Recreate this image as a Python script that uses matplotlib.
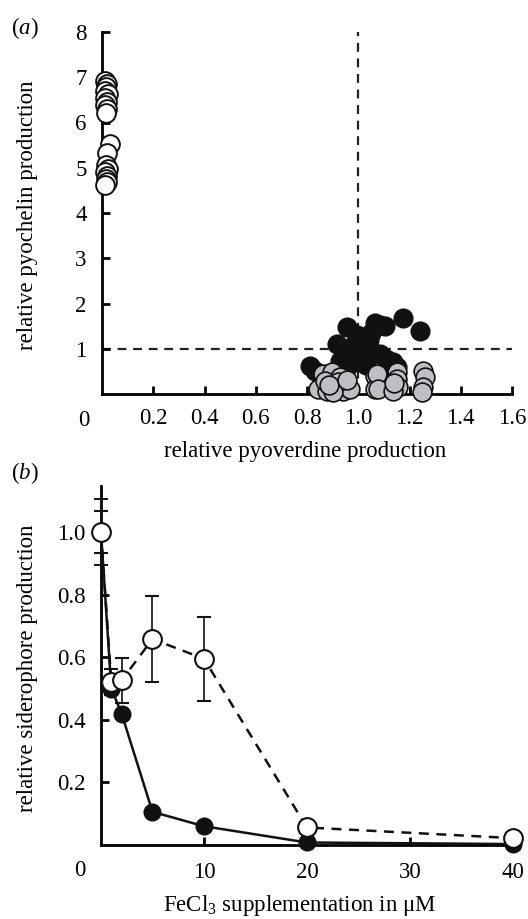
import matplotlib
matplotlib.use("Agg")
import matplotlib.pyplot as plt
import numpy as np

plt.rcParams['font.family'] = ['Liberation Serif', 'DejaVu Serif']
plt.rcParams['mathtext.fontset'] = 'custom'
plt.rcParams['mathtext.rm'] = 'Liberation Serif'
plt.rcParams['mathtext.it'] = 'Liberation Serif:italic'

# ---------------- Panel (a) data ----------------
open_x = [0.012, 0.020, 0.015, 0.010, 0.022, 0.012, 0.018, 0.012, 0.020, 0.014,
          0.031, 0.020, 0.016, 0.022, 0.012, 0.018, 0.014, 0.020, 0.012]
open_y = [6.92, 6.85, 6.78, 6.70, 6.62, 6.55, 6.45, 6.38, 6.30, 6.22,
          5.53, 5.32, 5.05, 4.98, 4.90, 4.82, 4.75, 4.68, 4.62]

filled_x = [1.176, 1.241, 1.104, 1.065, 1.085, 0.955, 0.994, 0.916, 1.020, 1.085,
            1.137, 0.810, 0.830, 1.000, 0.970, 1.040, 0.950, 1.010, 1.060, 0.990,
            0.930, 1.030, 1.110, 0.980, 1.150, 0.960, 1.050, 1.120]
filled_y = [1.69, 1.40, 1.50, 1.58, 1.52, 1.47, 1.30, 1.10, 1.06, 0.88,
            0.70, 0.62, 0.51, 1.00, 0.85, 1.20, 0.95, 0.75, 0.90, 1.15,
            0.72, 0.65, 0.78, 1.05, 0.60, 0.62, 1.35, 0.62]

gray_x = [0.864, 0.896, 0.929, 0.844, 0.877, 0.909, 0.942, 0.968, 0.870, 0.920,
          0.900, 0.885, 0.955,
          1.065, 1.065, 1.072, 1.150, 1.150, 1.078, 1.156, 1.137, 1.140,
          1.254, 1.260, 1.254, 1.250]
gray_y = [0.44, 0.48, 0.37, 0.11, 0.07, 0.15, 0.07, 0.11, 0.29, 0.26,
          0.05, 0.20, 0.30,
          0.40, 0.11, 0.44, 0.48, 0.33, 0.11, 0.15, 0.07, 0.25,
          0.51, 0.37, 0.15, 0.05]

# ---------------- Panel (b) data ----------------
fe_conc = [0, 1, 2, 5, 10, 20, 40]
open_b = [1.00, 0.52, 0.526, 0.658, 0.595, 0.056, 0.022]
open_err = [0.067, 0.042, 0.072, 0.138, 0.134, 0.0, 0.0]
filled_b = [1.00, 0.50, 0.42, 0.106, 0.060, 0.008, 0.003]
filled_err = [0.107, 0.0, 0.0, 0.0, 0.0, 0.0, 0.0]

W, H = 528, 919
fig = plt.figure(figsize=(W / 100, H / 100), dpi=100)


def fx(px):
    return px / W


def fy(py):
    return 1 - py / H


FS = 16.5
SPW = 2.0
GRAY = '#bebfc3'

# ---------------- Panel (a) ----------------
l, r, t, b = 102, 512, 32, 394
axa = fig.add_axes([fx(l), fy(b), (r - l) / W, (b - t) / H])
axa.set_xlim(0, 1.6)
axa.set_ylim(0, 8)
for s in ['top', 'right']:
    axa.spines[s].set_visible(False)
for s in ['left', 'bottom']:
    axa.spines[s].set_linewidth(SPW)
axa.set_xticks([0.2, 0.4, 0.6, 0.8, 1.0, 1.2, 1.4, 1.6])
axa.set_xticklabels(['0.2', '0.4', '0.6', '0.8', '1.0', '1.2', '1.4', '1.6'])
axa.set_yticks([1, 2, 3, 4, 5, 6, 7, 8])
axa.tick_params(direction='in', length=6, width=SPW, labelsize=FS, pad=10)
axa.tick_params(axis='y', pad=11)

axa.plot([0, 1.6], [1, 1], ls=(0, (4, 3)), color='#222222', lw=1.6, zorder=1)
axa.plot([1.0, 1.0], [0, 8], ls=(0, (4, 3)), color='#222222', lw=1.6, zorder=1)

MS = 13.5
axa.plot(filled_x, filled_y, 'o', ms=MS, mfc='#111111', mec='#111111', mew=1.0,
         ls='none', zorder=3, clip_on=False)
axa.plot(gray_x, gray_y, 'o', ms=MS, mfc=GRAY, mec='#111111', mew=1.2,
         ls='none', zorder=4, clip_on=False)
axa.plot(open_x, open_y, 'o', ms=MS, mfc='white', mec='#111111', mew=1.4,
         ls='none', zorder=4, clip_on=False)

fig.text(fx(84), fy(420), '0', fontsize=FS, ha='center', va='center')
fig.text(fx(305), fy(451), 'relative pyoverdine production', fontsize=FS,
         ha='center', va='center')
fig.text(fx(28), fy(215), 'relative pyochelin production', fontsize=FS,
         ha='center', va='center', rotation=90)
fig.text(fx(25), fy(28), '($\\it{a}$)', fontsize=FS, ha='center', va='center')

# ---------------- Panel (b) ----------------
l, r, t, b = 101, 520, 486, 845
axb = fig.add_axes([fx(l), fy(b), (r - l) / W, (b - t) / H])
axb.set_xlim(0, 40.7)
axb.set_ylim(0, 1.147)
for s in ['top', 'right']:
    axb.spines[s].set_visible(False)
for s in ['left', 'bottom']:
    axb.spines[s].set_linewidth(SPW)
axb.set_xticks([10, 20, 30, 40])
axb.set_yticks([0.2, 0.4, 0.6, 0.8, 1.0])
axb.set_yticklabels(['0.2', '0.4', '0.6', '0.8', '1.0'])
axb.tick_params(direction='in', length=6, width=SPW, labelsize=FS, pad=12)
axb.tick_params(axis='y', pad=11)

axb.errorbar(fe_conc, filled_b, yerr=filled_err, fmt='-o', color='#111111',
             lw=1.8, ms=12, mfc='#111111', mec='#111111', elinewidth=1.4,
             capsize=5, capthick=1.4, zorder=3, clip_on=False)
axb.errorbar(fe_conc, open_b, yerr=open_err, fmt='o', color='#111111',
             ms=13.5, mfc='white', mec='#111111', mew=1.5, elinewidth=1.2,
             capsize=5, capthick=1.2, zorder=4, clip_on=False)
axb.plot(fe_conc, open_b, ls=(0, (4, 3)), color='#111111', lw=1.8, zorder=3.5)

fig.text(fx(80), fy(870), '0', fontsize=FS, ha='center', va='center')
fig.text(fx(300), fy(906), 'FeCl$_3$ supplementation in μM', fontsize=FS,
         ha='center', va='center')
fig.text(fx(28), fy(668), 'relative siderophore production', fontsize=FS,
         ha='center', va='center', rotation=90)
fig.text(fx(25), fy(473), '($\\it{b}$)', fontsize=FS, ha='center', va='center')

fig.savefig('out.png', dpi=100)
